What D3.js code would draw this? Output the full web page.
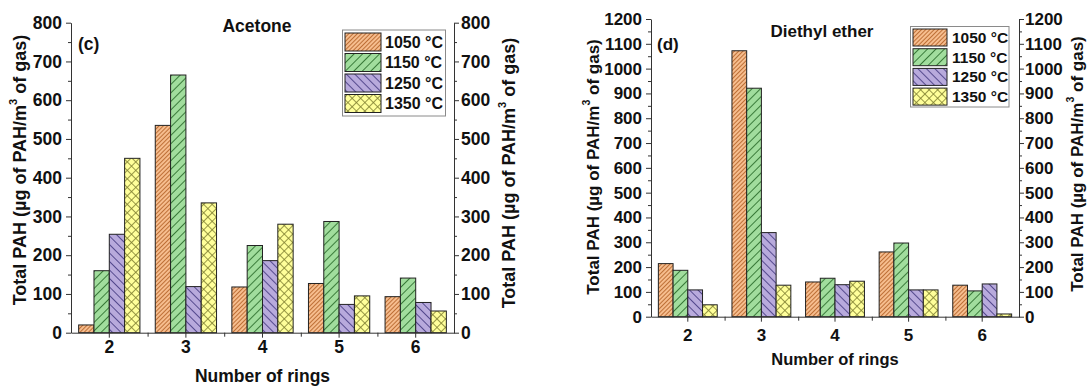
<!DOCTYPE html>
<html>
<head>
<meta charset="utf-8">
<script src="https://cdn.jsdelivr.net/npm/d3@7"></script>
<style>
  html, body { margin: 0; padding: 0; background: #fff; }
  svg text { font-family: "Liberation Sans", Arial, sans-serif; font-weight: bold; fill: #111; }
</style>
</head>
<body>
<svg id="chart" width="1088" height="387"></svg>
<script>
// ---- DATA ----
const categories = ["2", "3", "4", "5", "6"];
const seriesNames = ["1050 °C", "1150 °C", "1250 °C", "1350 °C"];

const acetone1050 = [20, 535, 118, 127, 93];
const acetone1150 = [160, 665, 225, 287, 141];
const acetone1250 = [254, 119, 186, 73, 78];
const acetone1350 = [450, 335, 280, 95, 56];

const ether1050 = [214, 1072, 140, 261, 127];
const ether1150 = [187, 921, 155, 297, 104];
const ether1250 = [108, 339, 129, 108, 132];
const ether1350 = [48, 127, 143, 108, 11];

const acetoneTicks = d3.range(0, 801, 100);
const etherTicks = d3.range(0, 1201, 100);

// ---- STYLE ----
const fills = ["#F6BD8E", "#A1DD9D", "#B8AADC", "#FFFF9A"];
const inks = ["#B8682E", "#2F6F2F", "#4A3F86", "#7E7E30"];

const svg = d3.select("#chart");
const defs = svg.append("defs");

function linePattern(id, fill, ink, spacing, angle) {
  const p = defs.append("pattern").attr("id", id)
    .attr("patternUnits", "userSpaceOnUse")
    .attr("width", spacing).attr("height", spacing)
    .attr("patternTransform", `rotate(${angle})`);
  p.append("rect").attr("width", spacing).attr("height", spacing).attr("fill", fill);
  p.append("line").attr("x1", 0.5).attr("y1", 0).attr("x2", 0.5).attr("y2", spacing)
    .attr("stroke", ink).attr("stroke-width", 0.9);
}
function crossPattern(id, fill, ink, spacing) {
  const p = defs.append("pattern").attr("id", id)
    .attr("patternUnits", "userSpaceOnUse")
    .attr("width", spacing).attr("height", spacing)
    .attr("patternTransform", "rotate(45)");
  p.append("rect").attr("width", spacing).attr("height", spacing).attr("fill", fill);
  p.append("line").attr("x1", 0.5).attr("y1", 0).attr("x2", 0.5).attr("y2", spacing)
    .attr("stroke", ink).attr("stroke-width", 0.8);
  p.append("line").attr("x1", 0).attr("y1", 0.5).attr("x2", spacing).attr("y2", 0.5)
    .attr("stroke", ink).attr("stroke-width", 0.8);
}
linePattern("pat0", fills[0], inks[0], 3, 45);
linePattern("pat1", fills[1], inks[1], 6, 45);
linePattern("pat2", fills[2], inks[2], 6, -45);
crossPattern("pat3", fills[3], inks[3], 6);
const patUrl = i => `url(#pat${i})`;

function drawPanel(cfg) {
  const g = svg.append("g");
  const x0 = d3.scaleBand().domain(categories).range([cfg.left, cfg.right])
    .paddingInner(0.2).paddingOuter(0.1);
  const x1 = d3.scaleBand().domain(seriesNames.map((d, i) => i)).range([0, x0.bandwidth()]);
  const y = d3.scaleLinear().domain([0, cfg.max]).range([cfg.bottom, cfg.top]);

  // bars
  cfg.series.forEach((vals, si) => {
    g.append("g").selectAll("rect").data(vals).join("rect")
      .attr("x", (d, i) => x0(categories[i]) + x1(si))
      .attr("y", d => y(d))
      .attr("width", x1.bandwidth())
      .attr("height", d => y(0) - y(d))
      .attr("fill", patUrl(si))
      .attr("stroke", "#222").attr("stroke-width", 1);
  });

  const fs = cfg.fs;
  const minorVals = d3.range(50, cfg.max, 100);
  const fmt = d3.format("d");

  // left axis
  const la = g.append("g").attr("transform", `translate(${cfg.left},0)`)
    .call(d3.axisLeft(y).tickValues(cfg.ticks).tickFormat(fmt).tickSize(5).tickSizeOuter(0).tickPadding(4));
  g.append("g").attr("transform", `translate(${cfg.left},0)`)
    .call(d3.axisLeft(y).tickValues(minorVals).tickSize(3).tickFormat("")).select(".domain").remove();
  // right axis
  const ra = g.append("g").attr("transform", `translate(${cfg.right},0)`)
    .call(d3.axisRight(y).tickValues(cfg.ticks).tickFormat(fmt).tickSize(5).tickSizeOuter(0).tickPadding(cfg.rPad));
  g.append("g").attr("transform", `translate(${cfg.right},0)`)
    .call(d3.axisRight(y).tickValues(minorVals).tickSize(3).tickFormat("")).select(".domain").remove();
  // bottom axis
  const ba = g.append("g").attr("transform", `translate(0,${cfg.bottom})`)
    .call(d3.axisBottom(x0).tickSize(5).tickSizeOuter(0).tickPadding(cfg.xPad));
  const bounds = categories.slice(0, -1).map(c => x0(c) + x0.bandwidth() + x0.step() * x0.paddingInner() / 2);
  const xb = d3.scaleIdentity();
  g.append("g").attr("transform", `translate(0,${cfg.bottom})`)
    .call(d3.axisBottom(xb).tickValues(bounds).tickSize(4).tickFormat("")).select(".domain").remove();

  [la, ra, ba].forEach(a => {
    a.selectAll("text").style("font-size", fs + "px").attr("fill", "#111");
    a.selectAll("path, line").attr("stroke", "#333").attr("stroke-width", 1);
  });
  g.selectAll(".tick line").attr("stroke", "#333");

  // axis titles
  function yTitle(cx, cy, size) {
    const t = g.append("text").attr("transform", `translate(${cx},${cy}) rotate(-90)`)
      .attr("text-anchor", "middle").attr("dominant-baseline", "central")
      .style("font-size", size + "px");
    t.append("tspan").text("Total PAH (µg of PAH/m");
    t.append("tspan").text("3").attr("dy", -size * 0.4).style("font-size", (size * 0.62) + "px");
    t.append("tspan").text(" of gas)").attr("dy", size * 0.4);
  }
  yTitle(cfg.yl[0], cfg.yl[1], cfg.yfs);
  yTitle(cfg.yr[0], cfg.yr[1], cfg.yfs);

  g.append("text").attr("x", (cfg.left + cfg.right) / 2 + cfg.xlOff).attr("y", cfg.xlY)
    .attr("text-anchor", "middle").style("font-size", cfg.xlfs + "px").text("Number of rings");

  g.append("text").attr("x", cfg.titleX).attr("y", cfg.titleY)
    .attr("text-anchor", "middle").style("font-size", cfg.tfs + "px").text(cfg.title);
  g.append("text").attr("x", cfg.tagX).attr("y", cfg.tagY)
    .style("font-size", cfg.tfs + "px").text(cfg.tag);

  // legend
  const L = cfg.legend;
  g.append("rect").attr("x", L.x).attr("y", L.y).attr("width", L.w).attr("height", L.h)
    .attr("fill", "#fff").attr("stroke", "#8a8a8a").attr("stroke-width", 1);
  seriesNames.forEach((name, i) => {
    const ry = L.row0 + i * L.rowH;
    g.append("rect").attr("x", L.swX).attr("y", ry).attr("width", L.swW).attr("height", L.swH)
      .attr("fill", patUrl(i)).attr("stroke", "#222").attr("stroke-width", 1);
    g.append("text").attr("x", L.tx).attr("y", ry + L.swH / 2)
      .attr("dominant-baseline", "central").style("font-size", L.fs + "px").text(name);
  });
}

drawPanel({
  left: 71, right: 454, top: 22.7, bottom: 332.7, max: 800, ticks: acetoneTicks,
  series: [acetone1050, acetone1150, acetone1250, acetone1350],
  fs: 17.5, rPad: 2, xPad: 3, yfs: 18, xlfs: 17.5, xlY: 382, xlOff: 0, tfs: 17.5,
  yl: [20, 170], yr: [509, 173],
  title: "Acetone", titleX: 257, titleY: 32, tag: "(c)", tagX: 78, tagY: 50,
  legend: { x: 342.5, y: 30, w: 103, h: 86, swX: 345, swW: 36, swH: 18, row0: 33, rowH: 20.5, tx: 385, fs: 16 }
});

drawPanel({
  left: 651, right: 1019, top: 19, bottom: 316.7, max: 1200, ticks: etherTicks,
  series: [ether1050, ether1150, ether1250, ether1350],
  fs: 17, rPad: 1, xPad: 7, yfs: 17, xlfs: 16.5, xlY: 365, xlOff: 0, tfs: 17,
  yl: [593, 167], yr: [1077, 164],
  title: "Diethyl ether", titleX: 822, titleY: 37, tag: "(d)", tagX: 657, tagY: 50,
  legend: { x: 910.5, y: 26.5, w: 98.5, h: 80.5, swX: 913, swW: 34, swH: 17, row0: 29, rowH: 19.7, tx: 952, fs: 15.5 }
});
</script>
</body>
</html>
